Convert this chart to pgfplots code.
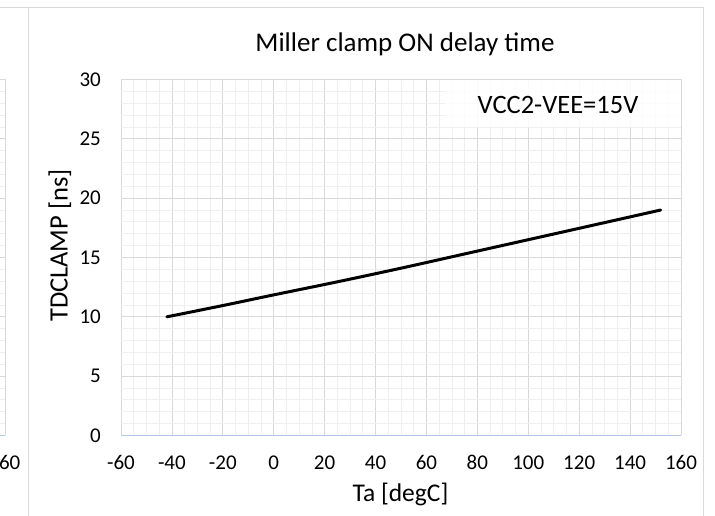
\documentclass[border=0pt]{standalone}
\usepackage{fontspec}
\setmainfont{Carlito}
\usepackage{pgfplots}
\pgfplotsset{compat=1.18}
\definecolor{majgrid}{HTML}{D9D9D9}
\definecolor{mingrid}{HTML}{EFEFEF}
\definecolor{axisblue}{HTML}{B4C7E7}
\definecolor{border}{HTML}{D9D9D9}
\begin{document}
\begin{tikzpicture}[x=1pt,y=1pt]
\path[use as bounding box] (0,0) rectangle (715,516);
\clip (0,0) rectangle (715,516);
% partial neighbouring chart on the left
\foreach \yy in {0,...,30} {\draw[mingrid, line width=0.8pt] (0,80.5+\yy*11.867) -- (5,80.5+\yy*11.867);}
\foreach \yy in {0,5,...,30} {\draw[majgrid, line width=0.8pt] (0,80.5+\yy*11.867) -- (5,80.5+\yy*11.867);}
\draw[majgrid, line width=0.8pt] (5,80.5) -- (5,436.5);
\draw[axisblue, line width=1.2pt] (0,80.5) -- (5,80.5);
\node[anchor=base east, inner sep=0pt, font=\fontsize{21}{24}\selectfont] at (20.5,46) {160};
\draw[border, line width=0.8pt] (0,508.5) -- (28.5,508.5);
% chart border
\draw[border, line width=0.8pt] (28.5,0) -- (28.5,508.5) -- (703,508.5) -- (703,0);
\begin{axis}[
  at={(121pt,80.5pt)}, anchor=south west,
  scale only axis, width=560pt, height=356pt,
  xmin=-60, xmax=160, ymin=0, ymax=30,
  xtick={-60,-40,...,160}, ytick={0,5,...,30},
  minor x tick num=3, minor y tick num=4,
  grid=both,
  major grid style={draw=majgrid, line width=0.8pt},
  minor grid style={draw=mingrid, line width=0.8pt},
  major tick length=0pt, minor tick length=0pt,
  axis line style={draw=none},
  /pgf/number format/assume math mode=true,
  tick label style={font=\fontsize{21}{24}\selectfont, inner sep=0pt},
  xticklabel style={anchor=base, yshift=-34.5pt},
  yticklabel style={anchor=base east, xshift=-20pt, yshift=-6.6pt},
  clip=false,
]
\draw[axisblue, line width=1.2pt] (rel axis cs:0,0) -- (rel axis cs:1,0);
\addplot[black, line width=3pt, line cap=round, smooth] coordinates {
 (-42,10.0) (-20,10.95) (0,11.85) (25,12.95) (50,14.1) (75,15.3) (100,16.5) (125,17.7) (152,19.0)
};
\end{axis}
% label box
\fill[white, opacity=0.85] (445,389) rectangle (680.5,435.7);
\node[anchor=base, inner sep=0pt, font=\fontsize{26.5}{30}\selectfont] at (558,402) {VCC2-VEE=15V};
% title and axis labels
\node[anchor=base, inner sep=0pt, font=\fontsize{27}{30}\selectfont] at (405,464) {Miller clamp ON delay time};
\node[anchor=base, inner sep=0pt, font=\fontsize{25.5}{30}\selectfont] at (400.5,14) {Ta [degC]};
\node[anchor=base, inner sep=0pt, rotate=90, font=\fontsize{26.5}{30}\selectfont] at (67.5,270.5) {TDCLAMP [ns]};
\end{tikzpicture}
\end{document}
